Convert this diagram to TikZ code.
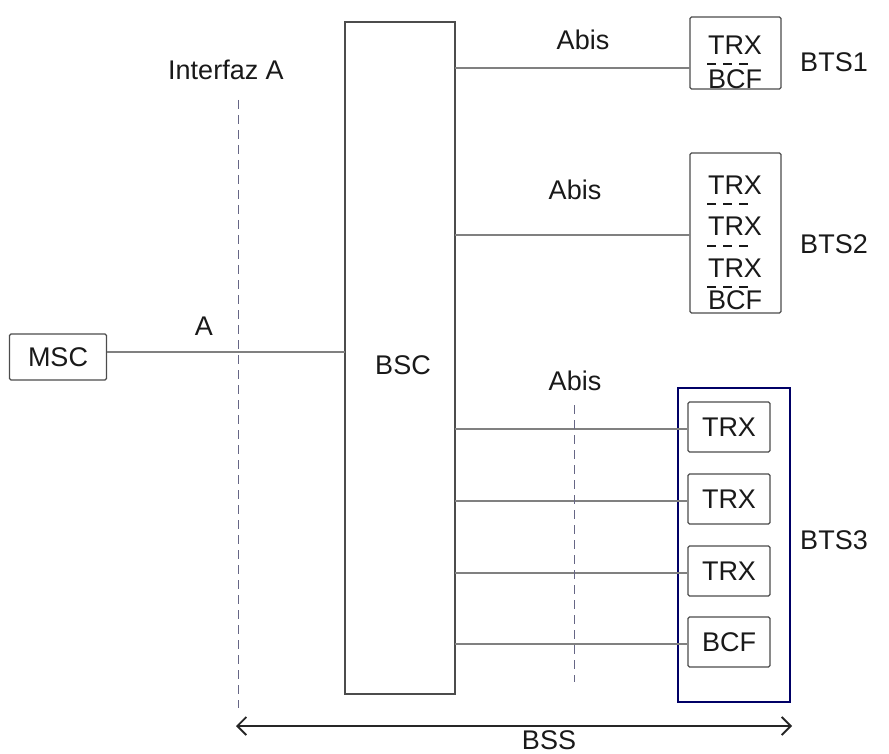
\documentclass[tikz,border=0pt]{standalone}
\usepackage{fontspec}
\setmainfont{Liberation Sans}
\usetikzlibrary{arrows.meta}
\begin{document}
\begin{tikzpicture}[x=1pt,y=-1pt,
  txt/.style={font=\fontsize{27}{30}\selectfont, text=black!90, inner sep=0pt},
  box/.style={draw=black!70, line width=1.2pt, rounded corners=1.5pt},
  link/.style={draw=black!50, line width=1.2pt},
  sep/.style={draw=black!80!blue!60, line width=1pt, dash pattern=on 9pt off 6pt},
  minidash/.style={draw=black!90, line width=2pt, dash pattern=on 9pt off 7pt},
  bluebox/.style={draw=blue!40!black, line width=2.8pt},
  every node/.style={txt}]
\useasboundingbox (0,0) rectangle (889,754);
% BSC
\node[box, rounded corners=0pt, minimum width=110pt, minimum height=672pt] (bsc) at (400,358) {};
\node (bsclbl) at (403,365) {BSC};
% MSC
\node[box, minimum width=97pt, minimum height=46pt] (msc) at (58,357) {MSC};
\coordinate (mscr) at (107,352);
\coordinate (bscl) at (345,352);
\draw[link] (mscr) -- (bscl);
\node (alab) at (204,326) {A};
% Interfaz A
\node (ifa) at (226,70) {Interfaz A};
\coordinate (sa1) at (238,100);
\coordinate (sa2) at (238,708);
\draw[sep] (sa1) -- (sa2);
% BTS1
\node[box, minimum width=91pt, minimum height=72pt] (bts1) at (735.5,53) {};
\node (t1) at (735,45) {TRX};
\node (b1) at (735,79) {BCF};
\coordinate (d1a) at (707,64); \coordinate (d1b) at (748,64);
\draw[minidash] (d1a) -- (d1b);
\coordinate (l1a) at (455,68); \coordinate (l1b) at (690,68);
\draw[link] (l1a) -- (l1b);
\node (abis1) at (583,40) {Abis};
\node (bts1l) at (834,62) {BTS1};
% BTS2
\node[box, minimum width=91pt, minimum height=160pt] (bts2) at (735.5,233) {};
\node (t2a) at (735,185) {TRX};
\node (t2b) at (735,226) {TRX};
\node (t2c) at (735,268) {TRX};
\node (b2) at (735,300) {BCF};
\coordinate (d2a) at (707,204); \coordinate (d2b) at (748,204);
\coordinate (d2c) at (707,246); \coordinate (d2d) at (748,246);
\coordinate (d2e) at (707,287); \coordinate (d2f) at (748,287);
\draw[minidash] (d2a) -- (d2b);
\draw[minidash] (d2c) -- (d2d);
\draw[minidash] (d2e) -- (d2f);
\coordinate (l2a) at (455,235); \coordinate (l2b) at (690,235);
\draw[link] (l2a) -- (l2b);
\node (abis2) at (575,190) {Abis};
\node (bts2l) at (834,244) {BTS2};
% BTS3
\node[bluebox, minimum width=112pt, minimum height=314pt] (bts3) at (734,545) {};
\node[box, minimum width=82pt, minimum height=50pt] (t3a) at (729,427) {TRX};
\node[box, minimum width=82pt, minimum height=50pt] (t3b) at (729,499) {TRX};
\node[box, minimum width=82pt, minimum height=50pt] (t3c) at (729,571) {TRX};
\node[box, minimum width=82pt, minimum height=50pt] (b3) at (729,642) {BCF};
\foreach \n/\yy in {t3a/429, t3b/501, t3c/573, b3/644}{
  \coordinate (s\n) at (455,\yy);
  \draw[link] (s\n) -- (\n.west |- s\n);
}
\node (abis3) at (575,381) {Abis};
\coordinate (sb1) at (574,405);
\coordinate (sb2) at (574,682);
\draw[sep] (sb1) -- (sb2);
\node (bts3l) at (834,540) {BTS3};
% BSS
\coordinate (bssl) at (236,726);
\coordinate (bssr) at (792,726);
\draw[draw=black!85, line width=1.8pt, {Straight Barb[length=9pt,width=18pt]}-{Straight Barb[length=9pt,width=18pt]}] (bssl) -- (bssr);
\node (bss) at (549,740) {BSS};
\end{tikzpicture}
\end{document}
